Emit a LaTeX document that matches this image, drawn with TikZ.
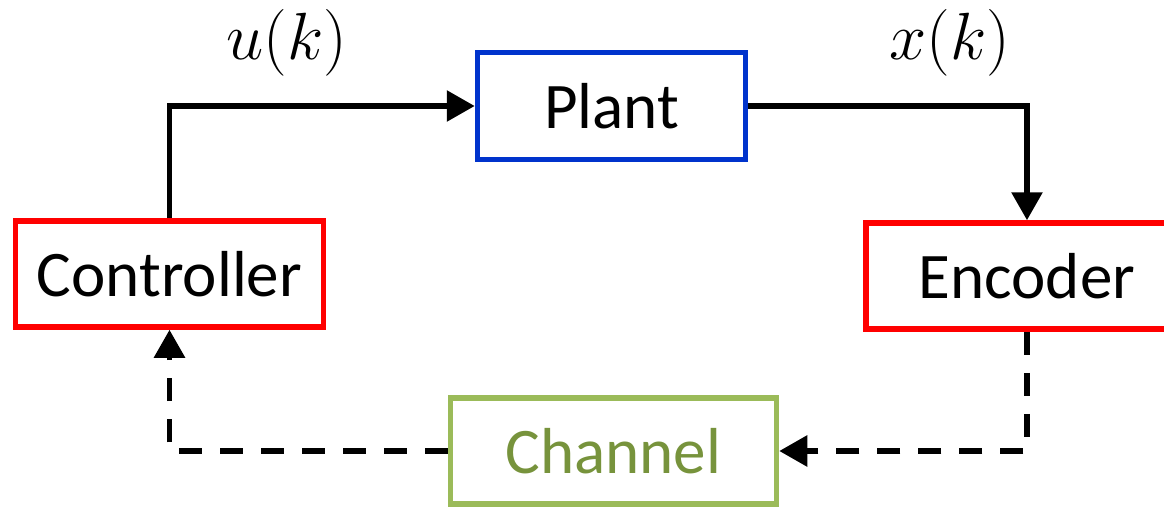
\RequirePackage{fix-cm}
\documentclass[tikz,border=0pt]{standalone}
\usepackage{fontspec}
\setmainfont{Carlito}
\usetikzlibrary{arrows.meta}
\definecolor{plantblue}{RGB}{0,51,204}
\definecolor{chgreen}{RGB}{155,187,89}
\definecolor{chtext}{RGB}{119,147,60}
\begin{document}
\begin{tikzpicture}[
  font=\fontsize{37}{44}\selectfont,
  block/.style={draw,line width=0.11cm,inner sep=0pt,minimum height=2.12cm},
  link/.style={line width=0.115cm,-{Triangle[width=0.6cm,length=0.56cm]}},
  dlink/.style={link,dash pattern=on 0.46cm off 0.36cm}]
\useasboundingbox (0,0) rectangle (23.28,10.12);
\node [block,red,text=black,minimum width=6.16cm] (ctrl) at (3.39,4.64) {Controller};
\node [block,plantblue,text=black,minimum width=5.36cm,minimum height=2.14cm] (plant) at (12.23,8.00) {Plant};
\node [block,red,text=black,minimum width=6.44cm] (enc) at (20.54,4.60) {Encoder};
\node [block,chgreen,text=chtext,minimum width=6.52cm] (chan) at (12.27,1.10) {Channel};
\node (u) at (5.74,9.26) {\fontsize{38}{44}\selectfont$u(k)$};
\node (x) at (19.00,9.26) {\fontsize{38}{44}\selectfont$x(k)$};
\draw [link] (ctrl.north) |- (plant.west);
\draw [link] (plant.east) -| (enc.north);
\draw [dlink] (enc.south) |- (chan.east);
\draw [dlink] (chan.west) -| (ctrl.south);
\end{tikzpicture}
\end{document}
